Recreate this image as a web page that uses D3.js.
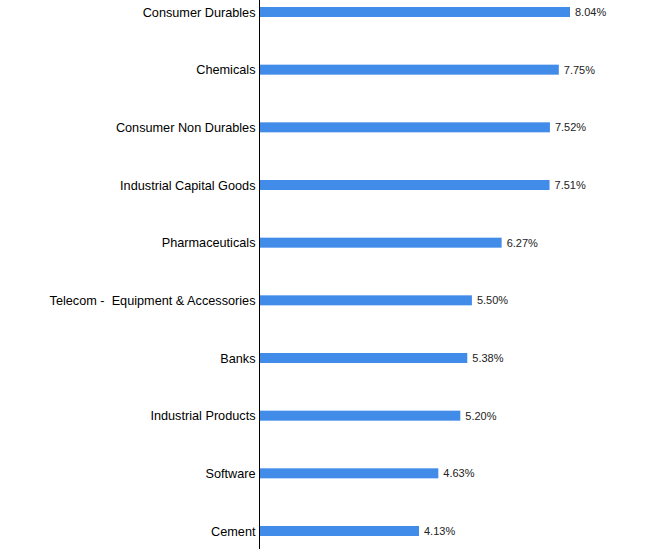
<!DOCTYPE html>
<html>
<head>
<meta charset="utf-8">
<script src="https://cdn.jsdelivr.net/npm/d3@7"></script>
<style>
  body { margin: 0; background: #fff; }
  svg { display: block; font-family: "Liberation Sans", Arial, sans-serif; }
  svg text { white-space: pre; }
</style>
</head>
<body>
<svg width="670" height="549"></svg>
<script>
const categories = [
  "Consumer Durables", "Chemicals", "Consumer Non Durables", "Industrial Capital Goods",
  "Pharmaceuticals", "Telecom -  Equipment & Accessories", "Banks", "Industrial Products",
  "Software", "Cement"
];
const values = [8.04, 7.75, 7.52, 7.51, 6.27, 5.50, 5.38, 5.20, 4.63, 4.13];
const valueLabels = ["8.04%", "7.75%", "7.52%", "7.51%", "6.27%", "5.50%", "5.38%", "5.20%", "4.63%", "4.13%"];

const data = categories.map((c, i) => ({ cat: c, value: values[i], label: valueLabels[i] }));

const x0 = 259.5;
const barH = 10;

const xScale = d3.scaleLinear()
                 .domain([0, 8.04])
                 .range([x0, 570]);

const yScale = d3.scalePoint() // bar centres
                 .domain(categories)
                 .range([12, 531]);

const svg = d3.select("svg");

svg.selectAll("rect.bar")
   .data(data)
   .enter()
   .append("rect")
   .attr("class", "bar")
   .attr("x", xScale(0))
   .attr("y", d => yScale(d.cat) - barH / 2)
   .attr("width", d => xScale(d.value) - xScale(0))
   .attr("height", barH)
   .attr("fill", "#418be9");

// value labels after bar end
svg.selectAll("text.val")
   .data(data)
   .enter()
   .append("text")
   .attr("class", "val")
   .attr("x", d => xScale(d.value) + 5)
   .attr("y", d => yScale(d.cat))
   .attr("dy", "0.35em")
   .attr("font-size", 11)
   .attr("fill", "#222")
   .text(d => d.label);

// category axis
const axis = svg.append("g")
                .attr("transform", `translate(${x0},0)`)
                .call(d3.axisLeft(yScale).tickSize(0).tickPadding(4));
axis.select(".domain").remove();
axis.selectAll("text")
    .attr("font-size", 12.7)
    .attr("font-family", "Liberation Sans, Arial, sans-serif")
    .attr("fill", "#000");

svg.append("line")
   .attr("x1", 259.5).attr("x2", 259.5)
   .attr("y1", 0).attr("y2", 549)
   .attr("stroke", "#000")
   .attr("stroke-width", 1);
</script>
</body>
</html>
